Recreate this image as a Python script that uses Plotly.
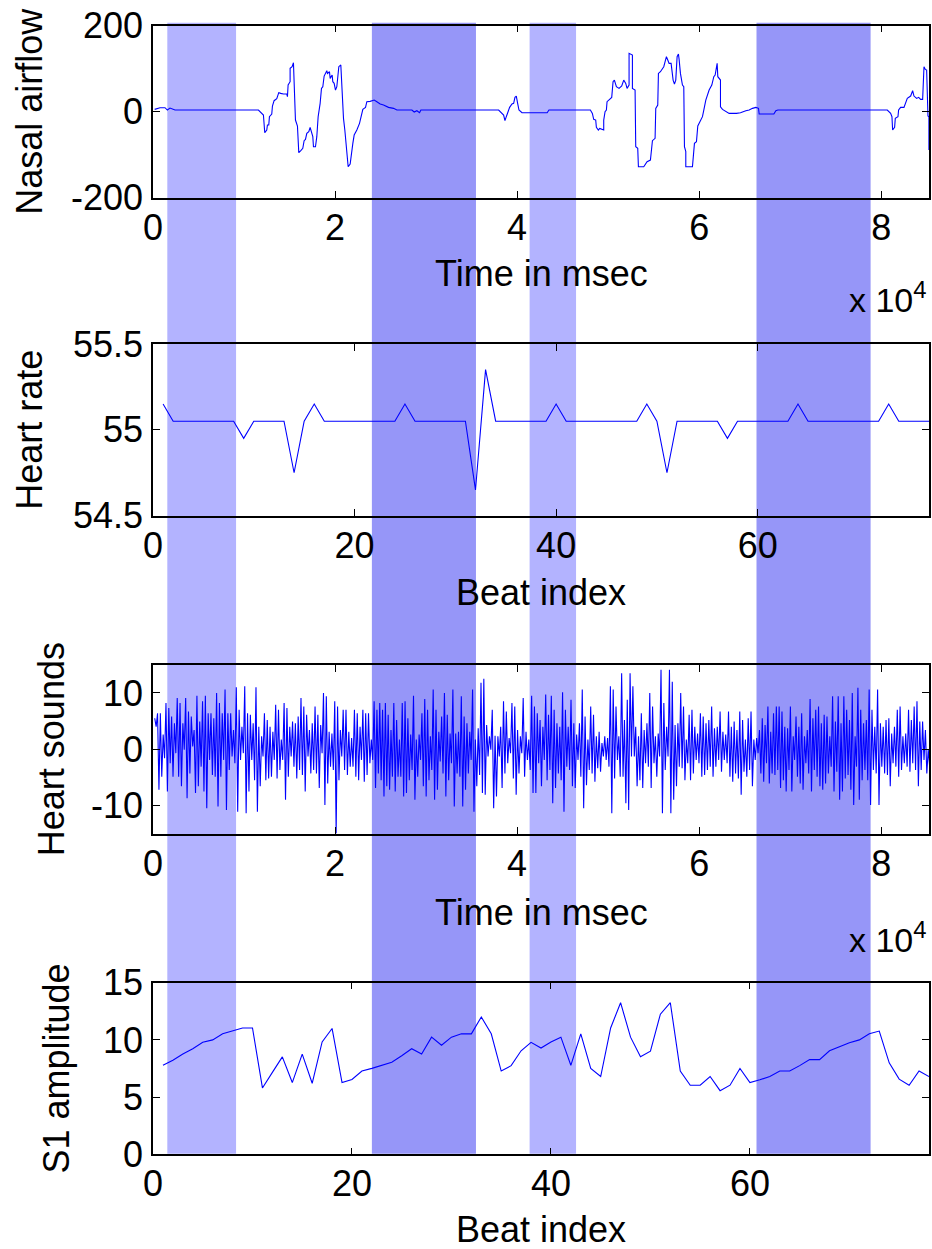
import plotly.graph_objects as go

# ---------------- data ----------------
# Nasal airflow: time (ms) and value
nasal_t = [183, 770, 1319, 1576, 1869, 2162, 2419, 11581,
           11765, 12131, 12278, 12498, 12571, 12718, 12791, 13047, 13121, 13304, 13597, 13817,
           14037, 14330, 14697, 14770, 14843, 15063, 15063, 15283, 15430, 15503, 15650, 15869,
           16016, 16236, 16456, 16602, 16749, 16896, 17116, 17262, 17409, 17556, 17629, 17849,
           17995, 18142, 18362, 18508, 18655, 18802, 19095, 19168, 19388, 19461, 19681, 19754,
           19901, 20048, 20194, 20414, 20634, 20707, 20927, 21074, 21294, 21440, 21660, 21807,
           21954, 22100, 22393, 22687, 22833, 23053, 23346, 23493, 23859, 24299, 24592, 24959,
           25325, 25875, 26425, 26792, 28440, 28697, 28990, 29283, 29430, 37969, 38519, 38666,
           38812, 39032, 39179, 39435, 39619, 39765, 39912, 40059, 40205, 40535, 42551, 43300,
           43500, 48049, 48268, 48415, 48635, 48708, 48928, 49075, 49515, 49515, 49661, 49808,
           49881, 50101, 50394, 50541, 50687, 50907, 51200, 51494, 51714, 51933, 52080, 52300,
           52300, 52667, 52667, 52960, 53033, 53253, 53326, 53913, 54279, 54646, 54866, 55159,
           55232, 55452, 55525, 55745, 56112, 56258, 56405, 56551, 56698, 56918, 57138, 57284,
           57431, 57578, 57724, 57798, 57944, 58164, 58311, 58384, 58531, 58531, 59263, 59483,
           59703, 59850, 60143, 60363, 60510, 60730, 61096, 61389, 61609, 61756, 61976, 62049,
           62342, 62342, 62562, 63075, 63295, 64101, 64541, 65127, 65494, 65860, 66227, 66520,
           66594, 66960, 68206, 68426, 68646, 80667, 81034, 81180, 81253, 81473, 81547, 81840,
           81913, 82133, 82500, 82866, 83233, 83453, 83599, 83892, 84112, 84332, 84552, 84698,
           84845, 84991, 85064, 85137, 85240, 85240]
nasal_v = [5.4, 9.3, 9.3, 3.9, 8.5, 5.4, 3.9, 3.9,
           0, -7.8, -48.8, -42.6, -31, -31, -11.6, -5.4, 13.2, 25.6, 30.2, 44.2,
           42.6, 41.1, 41.1, 34.9, 62, 69.8, 100.8, 104.7, 114, 77.5, -19.4, -33.3,
           -95.3, -90.7, -85.3, -67.4, -64.3, -50.4, -46.5, -36.4, -50.4, -58.1, -81.4, -81.4,
           -58.1, -11.6, 19.4, 54.3, 58.1, 82.9, 95.3, 89.1, 93, 77.5, 85.3, 69.8,
           65.9, 50.4, 58.1, 104.7, 108.5, 75.2, -15.5, -42.6, -96.9, -127.9, -121.7, -93,
           -73.6, -54.3, -42.6, -27.1, -15.5, 5.4, 10.1, 23.3, 24, 27.1, 23.3, 17.8,
           15.5, 10.1, 7.8, 3.9, 3.9, -0.8, 2.3, -2.3, 3.9, 3.9, -7.8, -20.9,
           -11.6, 3.9, 10.1, 17.8, 19.4, 33.3, 36.4, 19.4, 3.9, -2.3, -2.3, -2.3,
           3.9, 3.9, -3.9, -17.8, -19.4, -36.4, -42.6, -38.8, -42.6, -19.4, 0, 3.9,
           23.3, 27.1, 33.3, 69.8, 73.6, 58.1, 54.3, 59.7, 73.6, 65.9, 54.3, 62,
           135.7, 131.8, 54.3, 50.4, -81.4, -85.3, -127.9, -127.9, -116.3, -112.4, -67.4, -62,
           7.8, 15.5, 89.1, 93, 104.7, 116.3, 127.9, 120.2, 112.4, 112.4, 73.6, 64.3,
           73.6, 127.9, 134, 121.7, 89.1, 62, 58.1, -81.4, -93, -127.9, -127.9, -73.6,
           -69.8, -33.3, -19.4, -11.6, 3.9, 27.1, 50.4, 62, 81.4, 85.3, 112.4, 81.4,
           73.6, 11.6, 5.4, 0, -3.9, -3.9, -2.3, 2.3, 3.9, 7.8, 10.1, 7.8,
           -5.4, -5.4, -5.4, 2.3, 3.9, 3.9, -3.9, -11.6, -42.6, -36.4, -15.5, -11.6,
           3.9, 10.1, 10.1, 31, 36.4, 48.8, 36.4, 31, 33.3, 28.7, 28.7, 104.7,
           98.4, 96.9, -3.9, -10.1, -11.6, -89.1]

# Heart rate per beat
hr_beat = list(range(1, 78))
hr_value = [55.15, 55.05, 55.05, 55.05, 55.05, 55.05, 55.05, 55.05, 54.95, 55.05,
            55.05, 55.05, 55.05, 54.75, 55.05, 55.15, 55.05, 55.05, 55.05, 55.05,
            55.05, 55.05, 55.05, 55.05, 55.15, 55.05, 55.05, 55.05, 55.05, 55.05,
            55.05, 54.65, 55.35, 55.05, 55.05, 55.05, 55.05, 55.05, 55.05, 55.15,
            55.05, 55.05, 55.05, 55.05, 55.05, 55.05, 55.05, 55.05, 55.15, 55.05,
            54.75, 55.05, 55.05, 55.05, 55.05, 55.05, 54.95, 55.05, 55.05, 55.05,
            55.05, 55.05, 55.05, 55.15, 55.05, 55.05, 55.05, 55.05, 55.05, 55.05,
            55.05, 55.05, 55.15, 55.05, 55.05, 55.05, 55.05]

# Heart sounds: successive peak (top) and trough (bottom) values, sampled every HS_DT ms
HS_T0 = 190
HS_DT = 309
hs_top = [5.5, 6.4, 6.4, 2.6, 8.2, 7.3, 5.8, 4.6, 9.1, 8.2,
          4.6, 9.1, 6.7, 5.8, 3.4, 9.5, 4.9, 8.5, 9.5, 6.4,
          6.4, 5.5, 10.0, 8.2, 6.4, 10.6, 6.4, 6.4, 3.4, 11.0,
          7.0, 4.0, 11.2, 6.4, 6.1, 4.6, 11.0, 4.0, 2.3, 6.4,
          5.2, 4.0, 3.1, 7.9, 7.0, 1.7, 8.2, 7.3, 4.0, 4.9,
          4.6, 5.8, 9.1, 7.6, 6.1, 3.4, 4.6, 7.6, 6.1, 4.3,
          10.0, 9.4, 3.1, 2.8, 8.5, 7.6, 3.4, 7.0, 7.0, 3.1,
          2.0, 7.0, 6.4, 4.0, 7.0, 6.4, 6.4, 1.7, 8.5, 7.0,
          8.2, 7.0, 8.2, 6.1, 3.4, 8.2, 5.2, 1.7, 8.2, 8.5,
          5.5, 2.6,
          9.5, 1.7, 2.6, 6.4, 8.9, 7.0, 2.3, 10.6, 7.0, 3.1,
          5.8, 10.0, 6.1, 2.8, 10.6, 2.8, 3.1, 9.4, 5.8, 4.6,
          3.1, 10.6, 1.7, 3.7, 11.8, 12.5, 4.3, 2.3, 7.0, 2.4,
          2.3, 4.0, 8.5, 6.7, 2.0, 8.2, 7.6, 3.4, 2.3, 9.1,
          3.1, 1.7, 9.5, 7.6, 6.4, 5.2, 4.0, 9.7, 6.1, 9.5,
          7.0, 4.6, 4.0, 10.1, 7.0, 4.0, 8.8, 4.6, 2.6, 4.6,
          10.6, 5.8, 1.7, 7.6, 6.1, 2.3, 3.1, 1.1, 2.3, 2.0,
          11.2, 10.6, 7.6, 2.3, 13.5, 5.2, 8.8, 13.5, 11.2, 4.0,
          2.3, 6.4, 3.4, 4.6, 10.0, 7.6, 2.3, 2.8, 14.1, 8.2,
          4.0,
          14.1, 12.0, 4.3, 4.6, 10.0, 7.6, 1.7, 6.1, 7.0, 4.0,
          2.8, 6.4, 5.8, 4.6, 5.2, 7.6, 3.7, 4.0, 6.7, 3.1,
          2.6, 6.7, 4.0, 4.9, 3.4, 6.7, 5.2, 1.7, 5.5, 6.7,
          1.7, 2.0, 3.4, 5.5, 4.3, 7.6, 3.1, 6.4, 7.6, 7.6,
          6.7, 4.0, 3.7, 7.6, 2.3, 5.8, 4.0, 6.4, 2.3, 3.4,
          8.9, 5.5, 7.0, 7.6, 4.6, 6.1, 5.8, 2.3, 9.4, 4.9,
          9.4, 4.6, 9.4, 7.0, 5.2, 10.0, 2.3, 10.9, 7.0, 4.6,
          5.2, 10.6, 7.0, 4.0, 10.6, 4.6, 4.0, 5.2, 5.5, 2.8,
          4.0, 7.0, 7.6, 2.3, 2.8, 7.0, 5.2, 7.6, 8.5, 4.9,
          4.9, 3.4, -0.1]
hs_bottom = [4.0, -7.2, -4.9, -1.6, -7.5, -2.5, -4.9, -0.7, -4.9, -6.6,
             -0.1, -8.7, -4.3, 0.5, -7.8, -6.6, -3.1, -7.5, -10.5, -1.9,
             -4.6, -4.9, -10.2, -4.9, -1.9, -10.8, -3.7, -1.3, -2.5, -11.1,
             -1.9, -0.7, -11.4, -7.5, -1.9, -5.5, -11.1, -6.6, -1.3, -5.5,
             -5.2, -4.9, -1.9, -5.2, -3.7, -1.9, -9.0, -4.9, -1.3, -3.1,
             -5.2, -3.7, -4.6, -7.5, -1.3, -4.3, -3.7, -4.3, -6.9, -0.7,
             -9.9, -6.1, -3.1, -3.7, -15.0, -5.5, -1.3, -3.7, -4.6, -3.1,
             -3.1, -4.9, -5.5, -1.9, -5.8, -4.6, -2.5, -1.9, -6.9, -4.3,
             -5.5, -8.4, -6.6, -7.2, -4.9, -7.5, -4.9, -4.9, -8.4, -7.8,
             -5.5, -3.7,
             -9.0, -4.9, -1.9, -6.6, -8.4, -5.5, -3.7, -9.0, -7.2, -2.2,
             -4.3, -8.4, -5.5, -2.5, -10.2, -4.3, -4.9, -10.2, -7.2, -4.3,
             -1.9, -11.1, -6.6, -4.6, -7.8, -8.1, -1.3, -0.1, -10.5, -8.4,
             -1.3, -6.9, -4.3, -2.5, -0.7, -5.2, -8.1, -4.3, -0.7, -4.9,
             -1.9, -3.7, -7.8, -7.8, -2.5, -6.6, -1.9, -5.5, -3.7, -9.6,
             -6.9, -4.3, -5.5, -11.1, -3.1, -3.7, -6.6, -6.9, -1.9, -4.9,
             -10.5, -6.4, -3.7, -4.3, -5.8, -3.4, -4.0, -1.3, -1.9, -3.1,
             -11.4, -5.2, -1.9, -4.9, -4.9, -9.6, -10.8, -1.3, -1.3, -6.6,
             -5.5, -6.9, -2.5, -3.1, -6.9, -2.5, -4.9, -1.3, -11.4, -3.7,
             -1.3,
             -11.4, -9.0, -6.6, -3.1, -3.4, -5.5, -2.5, -5.5, -4.3, -1.9,
             -2.5, -4.9, -4.6, -3.7, -3.1, -4.9, -3.1, -1.9, -4.0, -1.9,
             -2.5, -4.9, -5.8, -4.3, -5.2, -8.1, -4.0, -4.9, -3.7, -6.6,
             -1.9, -0.7, -4.3, -5.8, -2.5, -6.1, -4.3, -4.6, -3.7, -6.9,
             -5.5, -7.5, -3.7, -7.5, -1.9, -4.9, -6.1, -7.2, -2.5, -4.3,
             -7.5, -3.7, -4.9, -6.6, -7.2, -6.1, -4.3, -3.1, -7.5, -4.0,
             -9.0, -7.5, -5.2, -4.6, -7.2, -9.9, -3.1, -9.0, -5.5, -3.7,
             -5.5, -9.9, -3.7, -4.3, -9.9, -3.1, -4.3, -4.6, -6.6, -2.5,
             -3.1, -4.9, -3.7, -2.5, -3.1, -4.0, -2.5, -3.7, -6.6, -3.7,
             -1.9, -4.3, -3.0]

# S1 amplitude per beat
s1_beat = list(range(1, 79))
s1_value = [7.78, 8.22, 8.76, 9.23, 9.79, 10.0, 10.53, 10.77, 11.04, 11.04,
            5.8, 7.16, 8.52, 6.27, 8.76, 6.21, 9.82, 11.0, 6.27, 6.54,
            7.28, 7.51, 7.81, 8.05, 8.61, 9.23, 8.76, 10.24, 9.53, 10.24,
            10.53, 10.53, 12.0, 10.53, 7.28, 7.75, 9.05, 9.79, 9.29, 9.82,
            10.24, 7.78, 10.53, 7.51, 6.8, 11.04, 13.25, 10.24, 8.52, 9.02,
            12.25, 13.25, 7.28, 6.04, 6.04, 6.8, 5.56, 6.04, 7.51, 6.27,
            6.51, 6.8, 7.28, 7.28, 7.75, 8.28, 8.28, 9.05, 9.41, 9.76,
            10.0, 10.53, 10.77, 7.99, 6.57, 6.04, 7.28, 6.8]

# Shaded event intervals (ms)
band_start = [1572, 24046, 41374, 66300]
band_end = [9126, 35481, 46476, 78834]
band_colors = ["rgba(150,150,255,0.72)", "rgba(115,115,245,0.75)",
               "rgba(150,150,255,0.72)", "rgba(115,115,245,0.75)"]

time_max = 85250
beat_max_hr = 77
beat_max_s1 = 78
time_tickvals = [0, 20000, 40000, 60000, 80000]
time_ticktext = ["0", "2", "4", "6", "8"]
beat_tickvals = [0, 20, 40, 60]

# ---------------- figure ----------------
W, H = 932, 1249
FONT = "Liberation Sans, Arial, Helvetica, sans-serif"
FS = 36
LINE = dict(color="#0000ff", width=1.1)

# plot area pixel boxes (top, bottom)
boxes = [(25.7, 197.7), (343.9, 515.7), (664.8, 833.6), (982.7, 1154.3)]
doms = [[1 - b / H, 1 - t / H] for t, b in boxes]

hs_x, hs_y = [], []
for k, (a, b) in enumerate(zip(hs_top, hs_bottom)):
    hs_x += [HS_T0 + k * HS_DT, HS_T0 + k * HS_DT + HS_DT / 2]
    hs_y += [a, b]

fig = go.Figure()
fig.add_trace(go.Scatter(x=nasal_t, y=nasal_v, mode="lines", line=LINE, xaxis="x", yaxis="y"))
fig.add_trace(go.Scatter(x=hr_beat, y=hr_value, mode="lines", line=LINE, xaxis="x2", yaxis="y2"))
fig.add_trace(go.Scatter(x=hs_x, y=hs_y, mode="lines", line=LINE, xaxis="x3", yaxis="y3"))
fig.add_trace(go.Scatter(x=s1_beat, y=s1_value, mode="lines", line=LINE, xaxis="x4", yaxis="y4"))


def axis(**kw):
    d = dict(showline=True, linecolor="black", linewidth=1.5, mirror="allticks",
             ticks="inside", ticklen=7, tickwidth=1, tickcolor="black",
             showgrid=False, zeroline=False, fixedrange=True, automargin=False,
             tickfont=dict(family=FONT, size=FS, color="black"))
    d.update(kw)
    return d


layout = dict(
    width=W, height=H, margin=dict(l=153, r=3, t=0, b=0, autoexpand=False),
    paper_bgcolor="white", plot_bgcolor="rgba(0,0,0,0)", showlegend=False,
    font=dict(family=FONT, size=FS, color="black"),
)
xr = [[0, time_max], [0, beat_max_hr], [0, time_max], [0, beat_max_s1]]
xtv = [time_tickvals, beat_tickvals, time_tickvals, beat_tickvals]
xtt = [time_ticktext, [str(v) for v in beat_tickvals], time_ticktext, [str(v) for v in beat_tickvals]]
yr = [[-200, 200], [54.5, 55.5], [-15, 15], [0, 15]]
ytv = [[-200, 0, 200], [54.5, 55, 55.5], [-10, 0, 10], [0, 5, 10, 15]]
ytt = [["-200", "0", "200"], ["54.5", "55", "55.5"], ["-10", "0", "10"], ["0", "5", "10", "15"]]
for i in range(4):
    sx = "" if i == 0 else str(i + 1)
    layout["xaxis" + sx] = axis(domain=[0, 1], range=xr[i], tickvals=xtv[i], ticktext=xtt[i],
                                anchor="y" + sx, ticklabelstandoff=-3)
    layout["yaxis" + sx] = axis(domain=doms[i], range=yr[i], tickvals=ytv[i], ticktext=ytt[i],
                                anchor="x" + sx, ticklabelstandoff=1)

# shaded bands spanning all panels
shapes = []
for s, e, c in zip(band_start, band_end, band_colors):
    shapes.append(dict(type="rect", xref="x", yref="paper", x0=s, x1=e,
                       y0=doms[3][0] + 0.0005, y1=doms[0][1] + 0.0024,
                       fillcolor=c, line=dict(width=0), layer="below"))
layout["shapes"] = shapes

ytitles = ["Nasal airflow", "Heart rate", "Heart sounds", "S1 amplitude"]
ytitle_px = [30, 30, 51, 56]
xtitles = ["Time in msec", "Beat index", "Time in msec", "Beat index"]
xtitle_py = [273, 592, 912, 1229]
ann = []
for i in range(4):
    t, b = boxes[i]
    ann.append(dict(text=ytitles[i], xref="paper", yref="paper",
                    x=(ytitle_px[i] - 153) / 776, y=1 - (t + b) / 2 / H,
                    xanchor="center", yanchor="middle", textangle=-90, showarrow=False,
                    font=dict(family=FONT, size=FS, color="black")))
    ann.append(dict(text=xtitles[i], xref="paper", yref="paper",
                    x=0.5, y=1 - xtitle_py[i] / H, xanchor="center", yanchor="middle",
                    showarrow=False, font=dict(family=FONT, size=FS, color="black")))
for py in [298, 937]:
    ann.append(dict(text="x 10<sup>4</sup>", xref="paper", yref="paper",
                    x=1.0, y=1 - py / H, xanchor="right", yanchor="middle",
                    showarrow=False, font=dict(family=FONT, size=FS - 2, color="black")))
layout["annotations"] = ann

fig.update_layout(**layout)
fig.write_html("out.html")
